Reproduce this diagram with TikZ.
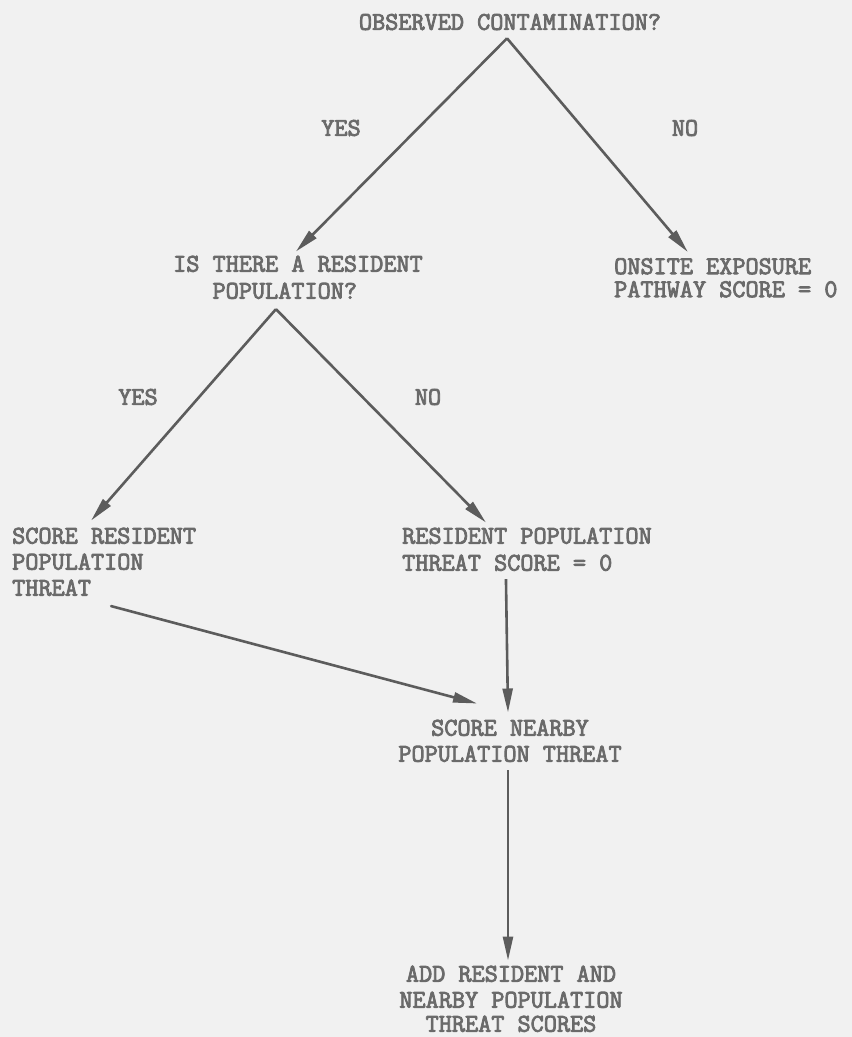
\documentclass[tikz,border=0pt]{standalone}
\usepackage{fontspec}
\newfontfamily\typewriter{Latin Modern Mono}[FakeBold=3.2]
\usetikzlibrary{arrows.meta}
\definecolor{paper}{HTML}{F1F1F1}
\definecolor{ink}{HTML}{6A6A6A}
\definecolor{rule}{HTML}{5C5C5C}
\begin{document}
\begin{tikzpicture}[x=1pt,y=-1pt,
  txt/.style={inner sep=0pt, text=ink, font=\typewriter\fontsize{25.5}{27}\selectfont},
  arr/.style={draw=rule, line width=2.6pt, -{Triangle[length=24pt,width=10pt]}},
]
\fill[paper] (0,0) rectangle (852,1037);
\useasboundingbox (0,0) rectangle (852,1037);

% decision and result texts
\node[txt] (obs) at (510,22) {OBSERVED CONTAMINATION?};
\node[txt] (yes1) at (341,128) {YES};
\node[txt] (no1) at (685,128) {NO};
\node[txt, anchor=north west, align=left] (q2) at (173,255.5)
  {IS THERE A RESIDENT\\\hphantom{XXX}POPULATION?};
\node[txt, anchor=north west, align=left] (onsite) at (614,258)
  {ONSITE EXPOSURE\\[-4pt]PATHWAY SCORE = 0};
\node[txt] (yes2) at (138,397) {YES};
\node[txt] (no2) at (428,397) {NO};
\node[txt, anchor=north west, align=left] (srt) at (12,527.5)
  {SCORE RESIDENT\\[-1pt]POPULATION\\[-1pt]THREAT};
\node[txt, anchor=north west, align=left] (rpz) at (402,527.5)
  {RESIDENT POPULATION\\THREAT SCORE = 0};
\node[txt, anchor=north, align=center] (snp) at (510,719.5)
  {SCORE NEARBY\\[-1pt]POPULATION THREAT};
\node[txt, anchor=north, align=center] (add) at (511,965.5)
  {ADD RESIDENT AND\\[-1pt]NEARBY POPULATION\\[-3pt]THREAT SCORES};

% branching points under the questions
\coordinate (apex1) at ([shift={(-3,8)}]obs.south);
\coordinate (apex2) at ([shift={(-22,10)}]q2.south);

% connectors
\draw[arr] (apex1) -- ([shift={(-2,-4)}]q2.north);
\draw[arr] (apex1) -- ([shift={(-38,-6)}]onsite.north);
\draw[arr] (apex2) -- ([shift={(-13,-7)}]srt.north);
\draw[arr] (apex2) -- ([shift={(-41,-5)}]rpz.north);
\draw[arr, line cap=round] ([shift={(7,10)}]srt.south) -- ([shift={(-33,-16)}]snp.north);
\draw[arr] ([shift={(-21,8)}]rpz.south) -- ([shift={(-2,-7)}]snp.north);
\draw[arr] ([shift={(-2,8)}]snp.south) -- ([shift={(-3,-5)}]add.north);
\end{tikzpicture}
\end{document}
